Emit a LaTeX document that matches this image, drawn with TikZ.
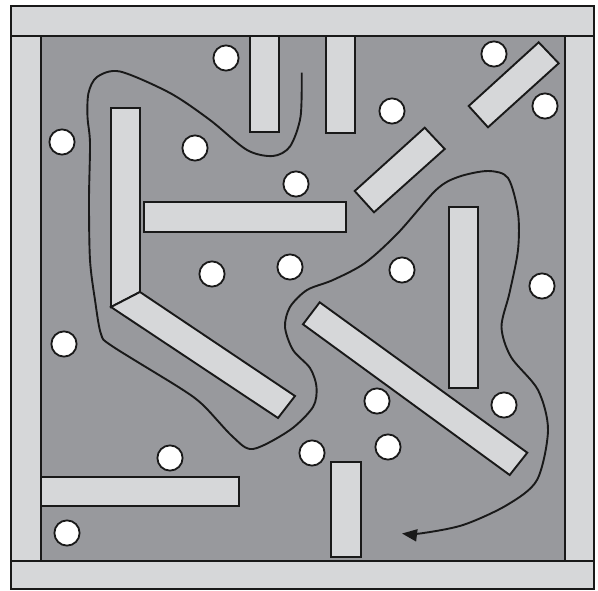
\documentclass[tikz,border=0pt]{standalone}
\usepackage{tikz}
\usepackage{xcolor}
\usetikzlibrary{arrows.meta}
\definecolor{floorgray}{RGB}{152,153,157}
\definecolor{wallgray}{RGB}{214,215,217}

\begin{document}
\begin{tikzpicture}[x=1pt,y=-1pt,
    wall/.style={fill=wallgray,draw=black!90,line width=1.9pt,line join=miter},
    ball/.style={fill=white,draw=black!90,line width=1.8pt},
    route/.style={draw=black!90,line width=1.9pt}]
        \useasboundingbox (0,0) rectangle (598,590);
        \draw[fill=floorgray,draw=black!90,line width=1.9pt] (41,36) rectangle (565,561);
        \draw[wall] (11,6) rectangle (594,36);
        \draw[wall] (11,561) rectangle (594,589);
        \draw[wall] (11,36) rectangle (41,561);
        \draw[wall] (565,36) rectangle (594,561);
        \draw[wall] (250,36) rectangle (279,132);
        \draw[wall] (326,36) rectangle (355,133);
        \draw[wall] (144,202) rectangle (346,232);
        \draw[wall] (449,207) rectangle (478,388);
        \draw[wall] (331,462) rectangle (361,557);
        \draw[wall] (41,477) rectangle (239,506);
        \draw[wall] (111,108) -- (140,108) -- (140,292) -- (111,307) -- cycle;
        \draw[wall] (111,307) -- (140,292) -- (295,396) -- (278,418) -- cycle;
        \draw[wall] (538.7,42.3) -- (558.7,63.3) -- (488,127.3) -- (468.7,106) -- cycle;
        \draw[wall] (424.7,127.7) -- (444.7,149) -- (374,212.3) -- (354.7,191) -- cycle;
        \draw[wall] (319.7,302.3) -- (527.3,452.7) -- (509.7,475) -- (303,324.3) -- cycle;
        \foreach \x/\y in {226/58,494/54,545/106,62/142,195/148,392/111,296/184,212/274,
                290/267,402/270,542/286,64/344,377/401,504/405,170/458,312/453,388/447,67/533}
            \draw[ball] (\x,\y) circle (12.6);
        \draw[route,-{Triangle[length=15pt,width=12pt]}] plot[smooth] coordinates {
            (301.7,72.7) (300.5,117) (290,146.5) (273,156) (247,150) (210,120) (170,93)
            (120,71.5) (97,77) (88.5,93) (87.5,117) (90,143) (89,200) (90,260) (95,300)
            (101,334) (112,346) (180,388) (203,405) (233,437) (253,449) (290,430)
            (313,407) (316.5,387) (310,368) (293,350) (285,327) (290,307) (307,290)
            (333,280) (365,263) (398,233) (436,190) (458,177) (488,171) (508,178)
            (518,213) (518,250) (509.5,293) (501.5,327) (511,357) (538,390) (548,430)
            (537,480) (507,505) (463,525) (420,533.5) (402,533.5)};
    \end{tikzpicture}
\end{document}
